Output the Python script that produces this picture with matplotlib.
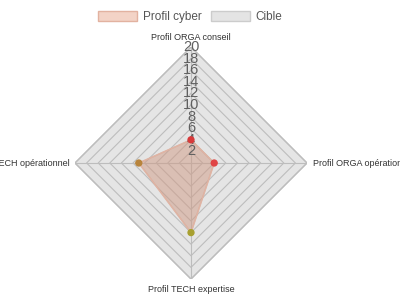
import numpy as np
import matplotlib
matplotlib.use('Agg')
import matplotlib.pyplot as plt
from matplotlib.patches import Patch

plt.rcParams['font.family'] = ['Liberation Sans', 'DejaVu Sans']

categories = ['Profil ORGA conseil', 'Profil ORGA opérationnel',
              'Profil TECH expertise', 'Profil TECH opérationnel']
profil_cyber = [4, 4, 12, 9]
cible = [20, 20, 20, 20]
point_colors = ['#d83a3a', '#e04444', '#a8a030', '#b8843c']
ticks = [2, 4, 6, 8, 10, 12, 14, 16, 18, 20]

fig = plt.figure(figsize=(4, 3), dpi=100)
cx, cy = 191 / 400, 1 - 163 / 300
rx, ry = 116 / 400, 116 / 300
ax = fig.add_axes([cx - rx, cy - ry, 2 * rx, 2 * ry], projection='polar')
ax.set_theta_zero_location('N')
ax.set_theta_direction(-1)
ax.set_ylim(0, 20)
ax.axis('off')

angles = np.linspace(0, 2 * np.pi, len(categories), endpoint=False)
closed = np.append(angles, angles[0])

# cible area (grey background)
ax.fill(closed, cible + cible[:1], color='#d4d4d4', alpha=0.6, zorder=1)
ax.plot(closed, cible + cible[:1], color='#c6c6c6', lw=1, zorder=2)

# polygon grid
for r in ticks:
    ax.plot(closed, [r] * len(closed), color='#bdbdbd', lw=0.8, zorder=2)
for a in angles:
    ax.plot([a, a], [0, 20], color='#bdbdbd', lw=0.8, zorder=2)

# profil cyber
ax.fill(closed, profil_cyber + profil_cyber[:1], color='#d09a84', alpha=0.5, zorder=3)
ax.plot(closed, profil_cyber + profil_cyber[:1], color='#e0b4a4', lw=1, zorder=3)
ax.scatter(angles, profil_cyber, c=point_colors, s=18, zorder=5)

for r in ticks:
    ax.text(0, r, str(r), ha='center', va='center', fontsize=10.5,
            color='#606060', zorder=4)

# axis labels
fig.text(cx, 1 - 38 / 300, categories[0], ha='center', va='center', fontsize=6.5, color='#333333')
fig.text(313 / 400, cy, categories[1], ha='left', va='center', fontsize=6.5, color='#333333')
fig.text(cx, 1 - 289 / 300, categories[2], ha='center', va='center', fontsize=6.5, color='#333333')
fig.text(70 / 400, cy, categories[3], ha='right', va='center', fontsize=6.5, color='#333333')

handles = [Patch(facecolor='#f3d3c6', edgecolor='#e2b2a0', label='Profil cyber'),
           Patch(facecolor='#e4e4e4', edgecolor='#cccccc', label='Cible')]
fig.legend(handles=handles, ncol=2, loc='center', bbox_to_anchor=(0.475, 1 - 17 / 300),
           frameon=False, fontsize=8.5, handlelength=3.3, handleheight=1.0,
           columnspacing=0.8, handletextpad=0.5, labelcolor='#555555')

fig.savefig('out.png', dpi=100)
